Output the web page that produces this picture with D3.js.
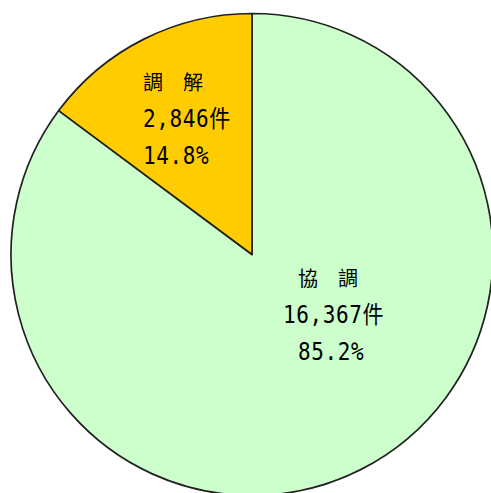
<!DOCTYPE html>
<html>
<head>
<meta charset="utf-8">
<script src="https://cdn.jsdelivr.net/npm/d3@7"></script>
<style>
  html, body { margin: 0; padding: 0; background: #fff; }
  svg { display: block; }
</style>
</head>
<body>
<svg id="chart" width="491" height="493"></svg>
<script>
const categories = ["協　調", "調　解"];
const counts = [16367, 2846];
const countLabels = ["16,367件", "2,846件"];
const percentLabels = ["85.2%", "14.8%"];
const colors = ["#CCFFCC", "#FFCC00"];

const svg = d3.select("#chart");
const cx = 252, cy = 254.5, r = 241;
const g = svg.append("g").attr("transform", `translate(${cx},${cy})`);

const pie = d3.pie().sort(null).value(d => d)(counts);
const arc = d3.arc().innerRadius(0).outerRadius(r);

g.selectAll("path").data(pie).enter().append("path")
  .attr("d", arc)
  .attr("fill", (d, i) => colors[i])
  .attr("stroke", "#222")
  .attr("stroke-width", 1.7)
  .attr("stroke-linejoin", "round");

// label block anchors (relative to pie centre)
const labelPos = [[46, 22.5], [-109, -173.5]];
const font = "'DejaVu Sans Mono', 'Noto Sans CJK TC', monospace";

pie.forEach((d, i) => {
  const [lx, ly] = labelPos[i];
  const t = g.append("g").attr("transform", `translate(${lx},${ly})`)
    .attr("font-family", font).attr("fill", "#000");
  t.append("text").attr("x", 0).attr("y", 0)
    .attr("font-family", "'Noto Sans CJK TC', sans-serif")
    .attr("font-size", 20).attr("dominant-baseline", "central")
    .text(categories[i]);
  t.append("text").attr("transform", `translate(${i === 0 ? -15 : 0},37) scale(1,1.15)`)
    .attr("font-size", 21).attr("letter-spacing", 0.6)
    .attr("dominant-baseline", "central")
    .text(countLabels[i]);
  t.append("text").attr("transform", `translate(0,74) scale(1,1.15)`)
    .attr("font-size", 21).attr("letter-spacing", 0.6)
    .attr("dominant-baseline", "central")
    .text(percentLabels[i]);
});
</script>
</body>
</html>
